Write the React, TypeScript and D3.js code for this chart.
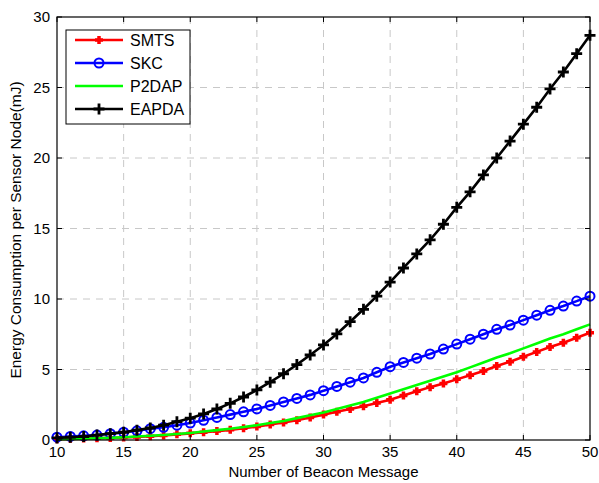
import React from "react";
import * as d3 from "d3";

const beacons = d3.range(10, 51);
const smts = [0.05,0.08,0.1,0.12,0.15,0.18,0.22,0.27,0.32,0.4,0.47,0.55,0.63,0.72,0.83,0.95,1.1,1.25,1.4,1.6,1.8,2.0,2.2,2.4,2.62,2.85,3.15,3.45,3.75,4.0,4.3,4.6,4.9,5.25,5.55,5.9,6.25,6.6,6.9,7.25,7.6];
const skc = [0.2,0.25,0.3,0.35,0.45,0.55,0.65,0.8,0.9,1.05,1.2,1.4,1.6,1.8,2.0,2.2,2.45,2.7,2.95,3.2,3.5,3.8,4.1,4.4,4.8,5.2,5.5,5.8,6.1,6.45,6.8,7.15,7.5,7.85,8.15,8.5,8.85,9.2,9.5,9.85,10.2];
const p2dap = [0.05,0.07,0.09,0.12,0.15,0.2,0.25,0.3,0.35,0.42,0.5,0.6,0.7,0.8,0.92,1.05,1.2,1.35,1.55,1.75,1.95,2.2,2.45,2.7,3.0,3.3,3.6,3.9,4.2,4.5,4.8,5.15,5.5,5.85,6.15,6.5,6.85,7.2,7.5,7.85,8.2];
const eapda = [0.15,0.2,0.25,0.35,0.45,0.55,0.7,0.85,1.05,1.3,1.55,1.85,2.2,2.6,3.05,3.55,4.1,4.7,5.35,6.03,6.74,7.52,8.39,9.27,10.2,11.2,12.2,13.2,14.2,15.3,16.5,17.6,18.8,20.0,21.2,22.4,23.6,24.9,26.1,27.4,28.7];
const seriesNames = ["SMTS", "SKC", "P2DAP", "EAPDA"];
const seriesColors = ["#ff0000", "#0000ff", "#00ff00", "#000000"];
const xTicks = [10, 15, 20, 25, 30, 35, 40, 45, 50];
const yTicks = [0, 5, 10, 15, 20, 25, 30];

const W = 599, H = 483;
const M = { left: 57, right: 9, top: 17, bottom: 43 };

export default function App() {
  const x = d3.scaleLinear().domain([10, 50]).range([M.left, W - M.right]);
  const y = d3.scaleLinear().domain([0, 30]).range([H - M.bottom, M.top]);
  const data = [smts, skc, p2dap, eapda];
  const line = d3.line<number>().x((_, i) => x(beacons[i])).y((d) => y(d));
  const font = "Liberation Sans, Arial, Helvetica, sans-serif";
  const x0 = M.left, x1 = W - M.right, y0 = H - M.bottom, y1 = M.top;

  const plus = (cx: number, cy: number, s: number, color: string, sw: number, key: string) => (
    <path key={key} d={`M${cx - s},${cy}H${cx + s}M${cx},${cy - s}V${cy + s}`} stroke={color} strokeWidth={sw} fill="none" />
  );
  const marker = (si: number, cx: number, cy: number, key: string) => {
    if (si === 0) return plus(cx, cy, 4, seriesColors[0], 3.5, key);
    if (si === 1) return <circle key={key} cx={cx} cy={cy} r={4.5} fill="none" stroke={seriesColors[1]} strokeWidth={2} />;
    if (si === 3) return plus(cx, cy, 5.5, seriesColors[3], 2.8, key);
    return null;
  };

  return (
    <svg width={W} height={H} style={{ position: "absolute", left: 0, top: 0, background: "#fff" }} fontFamily={font}>
      <rect x={0} y={0} width={W} height={H} fill="#fff" />
      {xTicks.slice(1, -1).map((t) => (
        <line key={"gx" + t} x1={x(t)} x2={x(t)} y1={y0} y2={y1} stroke="#c8c8c8" strokeDasharray="7,6" strokeWidth={1} />
      ))}
      {yTicks.slice(1, -1).map((t) => (
        <line key={"gy" + t} x1={x0} x2={x1} y1={y(t)} y2={y(t)} stroke="#c8c8c8" strokeDasharray="7,6" strokeWidth={1} />
      ))}
      {data.map((d, si) => (
        <g key={"s" + si}>
          <path d={line(d) || ""} fill="none" stroke={seriesColors[si]} strokeWidth={2.6} />
          {d.map((v, i) => marker(si, x(beacons[i]), y(v), `m${si}-${i}`))}
        </g>
      ))}
      <rect x={x0} y={y1} width={x1 - x0} height={y0 - y1} fill="none" stroke="#000" strokeWidth={1.2} />
      {xTicks.map((t) => (
        <g key={"tx" + t}>
          <line x1={x(t)} x2={x(t)} y1={y0} y2={y0 - 5} stroke="#000" />
          <line x1={x(t)} x2={x(t)} y1={y1} y2={y1 + 5} stroke="#000" />
          <text x={x(t)} y={y0 + 17} textAnchor="middle" fontSize={15}>{t}</text>
        </g>
      ))}
      {yTicks.map((t) => (
        <g key={"ty" + t}>
          <line x1={x0} x2={x0 + 5} y1={y(t)} y2={y(t)} stroke="#000" />
          <line x1={x1} x2={x1 - 5} y1={y(t)} y2={y(t)} stroke="#000" />
          <text x={x0 - 7} y={y(t) + 5} textAnchor="end" fontSize={15}>{t}</text>
        </g>
      ))}
      <text x={(x0 + x1) / 2} y={477} textAnchor="middle" fontSize={15}>Number of Beacon Message</text>
      <text transform={`translate(21,230) rotate(-90)`} textAnchor="middle" fontSize={15.5}>Energy Consumption per Sensor Node(mJ)</text>
      <rect x={66} y={30} width={124} height={94} fill="#fff" stroke="#000" strokeWidth={1} />
      {seriesNames.map((n, i) => {
        const ly = 40 + i * 23;
        return (
          <g key={"lg" + i}>
            <line x1={75} x2={123} y1={ly} y2={ly} stroke={seriesColors[i]} strokeWidth={2.6} />
            {marker(i, 99, ly, "lm" + i)}
            <text x={130} y={ly + 6} fontSize={16}>{n}</text>
          </g>
        );
      })}
    </svg>
  );
}
